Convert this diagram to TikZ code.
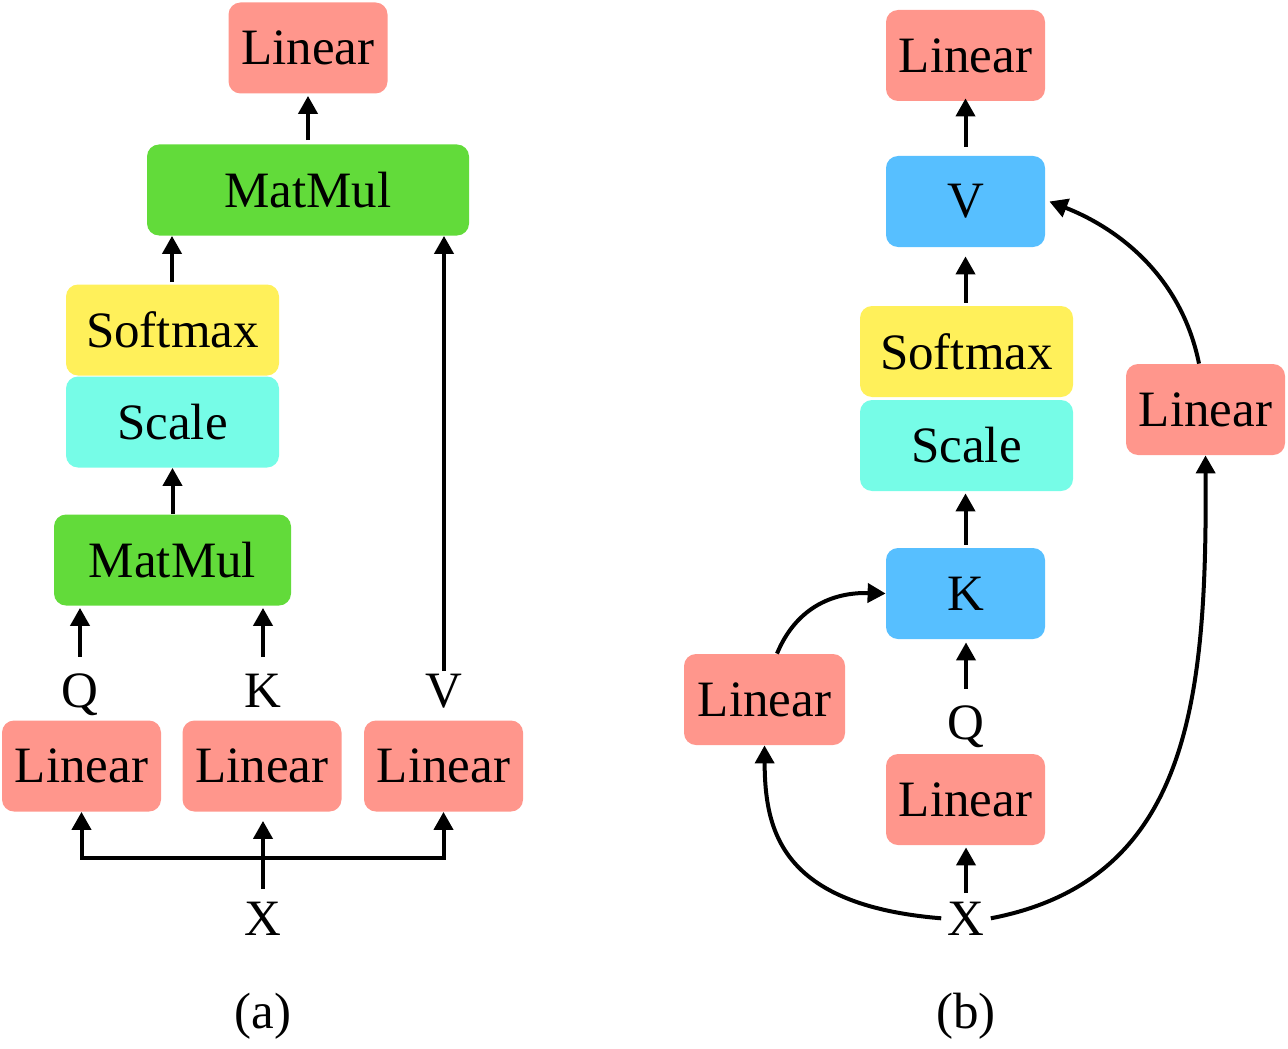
\documentclass[tikz,border=0pt]{standalone}
\usepackage{fontspec}
\setmainfont{Liberation Serif}
\usetikzlibrary{arrows.meta}
\definecolor{cLin}{HTML}{FF968C}
\definecolor{cMat}{HTML}{62DB3A}
\definecolor{cSoft}{HTML}{FFF05A}
\definecolor{cScale}{HTML}{76FCE7}
\definecolor{cKV}{HTML}{57BFFF}
\tikzset{
  box/.style={rounded corners=6pt, minimum height=45.5pt, inner sep=0pt, font=\fontsize{25.5}{30}\selectfont},
  lin/.style={box, fill=cLin, minimum width=79.5pt},
  mat/.style={box, fill=cMat},
  soft/.style={box, fill=cSoft, minimum width=106.5pt},
  scl/.style={box, fill=cScale, minimum width=106.5pt},
  kv/.style={box, fill=cKV, minimum width=79.5pt},
  lbl/.style={inner sep=0pt, anchor=base, font=\fontsize{25.5}{30}\selectfont},
  arr/.style={line width=2pt, -{Triangle[length=9pt,width=9.5pt]}},
  arrs/.style={line width=2pt, {Triangle[length=9pt,width=9.5pt]}-{Triangle[length=9pt,width=9.5pt]}}
}
\begin{document}
\begin{tikzpicture}[x=0.5pt,y=-0.5pt]
\useasboundingbox (0,0) rectangle (1288,1048);
% ---------- (a)
\node[lin] (la) at (308,48) {Linear};
\node[mat, minimum width=161pt] (mma) at (308,190) {MatMul};
\node[soft] (sma) at (172.5,330) {Softmax};
\node[scl] (sca) at (172.5,422) {Scale};
\node[mat, minimum width=118.5pt] (mmb) at (172.5,560) {MatMul};
\node[lin] (lq) at (81.5,766) {Linear};
\node[lin] (lk) at (262,766) {Linear};
\node[lin] (lv) at (443.5,766) {Linear};
\node[lbl] (qa) at (80,707) {Q};
\node[lbl] (ka) at (263,707) {K};
\node[lbl] (va) at (444,707) {V};
\node[lbl] (xa) at (263,935) {X};
\node[lbl] (capa) at (263,1028) {(a)};
\coordinate (bus) at (263,858);

\draw[arr, shorten <=2pt, shorten >=1pt] (mma.north) -- (la.south);
\draw[arr, shorten <=1pt] (sma.north -| 172,0) -- (mma.south -| 172,0);
\draw[arr] (mmb.north) -- (sca.south);
\draw[arr, shorten <=8pt, shorten >=1pt] (qa.north) -- (qa.north |- mmb.south);
\draw[arr, shorten <=8pt, shorten >=1pt] (ka.north) -- (ka.north |- mmb.south);
\draw[arr, shorten <=1pt] (va.north) -- (va.north |- mma.south);
\draw[arrs] (lq.south) |- (bus) -| (lv.south);
\draw[arr, shorten <=6pt, shorten >=4.5pt] (xa.north) -- (xa.north |- lk.south);

% ---------- (b)
\node[lin] (ltop) at (965.5,55.5) {Linear};
\node[kv] (vb) at (965.5,201.5) {V};
\node[soft] (smb) at (966.5,351.5) {Softmax};
\node[scl] (scb) at (966.5,445.5) {Scale};
\node[kv] (kb) at (965.5,593.5) {K};
\node[lin, minimum width=80.5pt] (ll) at (764.5,699.5) {Linear};
\node[lin] (lb) at (965.5,799.5) {Linear};
\node[lin] (lr) at (1205.5,409.5) {Linear};
\node[lbl] (qb) at (966,739) {Q};
\node[lbl, inner sep=3pt] (xb) at (966,935) {X};
\node[lbl] (capb) at (966,1028) {(b)};

\draw[arr, shorten <=4.5pt, shorten >=-1.5pt] (vb.north) -- (ltop.south);
\draw[arr, shorten <=1.5pt, shorten >=4.5pt] (smb.north -| vb.south) -- (vb.south);
\draw[arr, shorten <=1.5pt, shorten >=1pt] (kb.north) -- (kb.north |- scb.south);
\draw[arr, shorten <=8pt, shorten >=1.5pt] (qb.north) -- (qb.north |- kb.south);
\draw[arr, shorten <=1pt, shorten >=1pt] (xb.north) -- (xb.north |- lb.south);
% curves
\draw[arr] (xb.west) .. controls (780,905) and (765,830) .. (ll.south);
\draw[arr] (ll.north -| 777,0) .. controls (795,610) and (830,592) .. (kb.west);
\draw[arr] (xb.east) .. controls (1190,880) and (1207,700) .. (lr.south);
\draw[arr] (lr.north -| 1199,0) .. controls (1180,270) and (1110,225) .. ([xshift=2pt]vb.east);
\end{tikzpicture}
\end{document}
